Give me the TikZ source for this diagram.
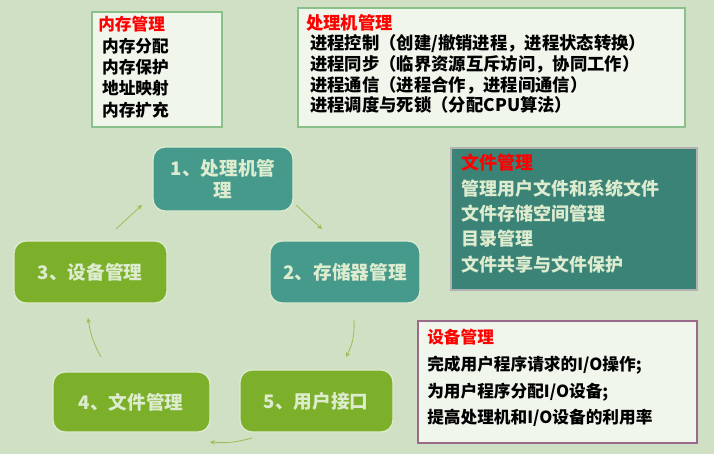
\documentclass[tikz,border=0pt]{standalone}
\usepackage{fontspec}
\setmainfont{Noto Sans CJK SC}
\usetikzlibrary{calc}
\definecolor{bgc}{HTML}{D0E0C4}
\definecolor{tealc}{HTML}{459A8C}
\definecolor{greenc}{HTML}{7CB02A}
\definecolor{lightc}{HTML}{DDEBCF}
\definecolor{purplec}{HTML}{9A6A8A}
\definecolor{boxgreen}{HTML}{8CC08A}
\tikzset{
  cyc/.style={rounded corners=9pt, draw=lightc, line width=1pt, text=lightc,
    font=\fontsize{14}{17}\selectfont\bfseries, align=center},
  infobox/.style={anchor=north west, align=left, inner sep=0pt,
    font=\fontsize{12.5}{15}\selectfont\bfseries},
  arr/.style={->, >=stealth, draw=greenc!80, line width=0.6pt}
}
\begin{document}
\begin{tikzpicture}[x=0.75pt,y=-0.75pt]
    \fill[bgc] (0,0) rectangle (714,454);
    \useasboundingbox (0,0) rectangle (714,454);
    % Top boxes
    \draw[fill=white!70!bgc, draw=boxgreen, line width=1.5pt] (92,12) rectangle (222,127);
    \node[infobox] (mem) at (98,16) {\textcolor{red}{内存管理}\\[1pt]
      \ 内存分配\\[1pt] \ 内存保护\\[1pt] \ 地址映射\\[1pt] \ 内存扩充};
    \draw[fill=white!70!bgc, draw=boxgreen, line width=1.5pt] (298,8) rectangle (685,127);
    \node[infobox, font=\fontsize{13}{15.5}\selectfont\bfseries] (cpu) at (306,14) {\textcolor{red}{处理机管理}\\
      \ 进程控制（创建/撤销进程，进程状态转换）\\
      \ 进程同步（临界资源互斥访问，协同工作）\\
      \ 进程通信（进程合作，进程间通信）\\
      \ 进程调度与死锁（分配CPU算法）};
    % File box
    \draw[fill=tealc!85!black, draw=gray!60, line width=1.5pt] (451,148) rectangle (697,290);
    \node[infobox, text=lightc, font=\fontsize{13.5}{16}\selectfont\bfseries] (file) at (461,154) {\textcolor{red}{文件管理}\\[3pt]
      管理用户文件和系统文件\\[3pt] 文件存储空间管理\\[3pt] 目录管理\\[3pt] 文件共享与文件保护};
    % Device box
    \draw[fill=white!70!bgc, draw=purplec, line width=1.5pt] (418,321) rectangle (697,443);
    \node[infobox] (dev) at (427,329) {\textcolor{red}{设备管理}\\[5pt]
      完成用户程序请求的I/O操作;\\[5pt] 为用户程序分配I/O设备;\\[5pt] 提高处理机和I/O设备的利用率};
    % Cycle
    \draw[cyc, fill=tealc] (153,147) rectangle (293,211);
    \node[cyc, draw=none] (n1) at (223,179) {1、处理机管\\理};
    \draw[cyc, fill=tealc] (270,241) rectangle (420,303);
    \node[cyc, draw=none] (n2) at (345,272) {2、存储器管理};
    \draw[cyc, fill=greenc] (14,241) rectangle (167,303);
    \node[cyc, draw=none] (n3) at (90,272) {3、设备管理};
    \draw[cyc, fill=greenc] (53,372) rectangle (210,432);
    \node[cyc, draw=none] (n4) at (131,402) {4、文件管理};
    \draw[cyc, fill=greenc] (240,370) rectangle (393,432);
    \node[cyc, draw=none] (n5) at (316,401) {5、用户接口};
    % Arrows
    \coordinate (a1) at (116,229); \coordinate (b1) at (142,205);
    \coordinate (a2) at (296,205); \coordinate (b2) at (322,229);
    \coordinate (a3) at (354,320); \coordinate (b3) at (346,357);
    \coordinate (a4) at (252,438); \coordinate (b4) at (210,442);
    \coordinate (a5) at (101,357); \coordinate (b5) at (88,318);
    \draw[arr] (a1) -- (b1);
    \draw[arr] (a2) -- (b2);
    \draw[arr] (a3) to[bend left=15] (b3);
    \draw[arr] (a4) to[bend left=10] (b4);
    \draw[arr] (a5) to[bend left=10] (b5);
\end{tikzpicture}
\end{document}
